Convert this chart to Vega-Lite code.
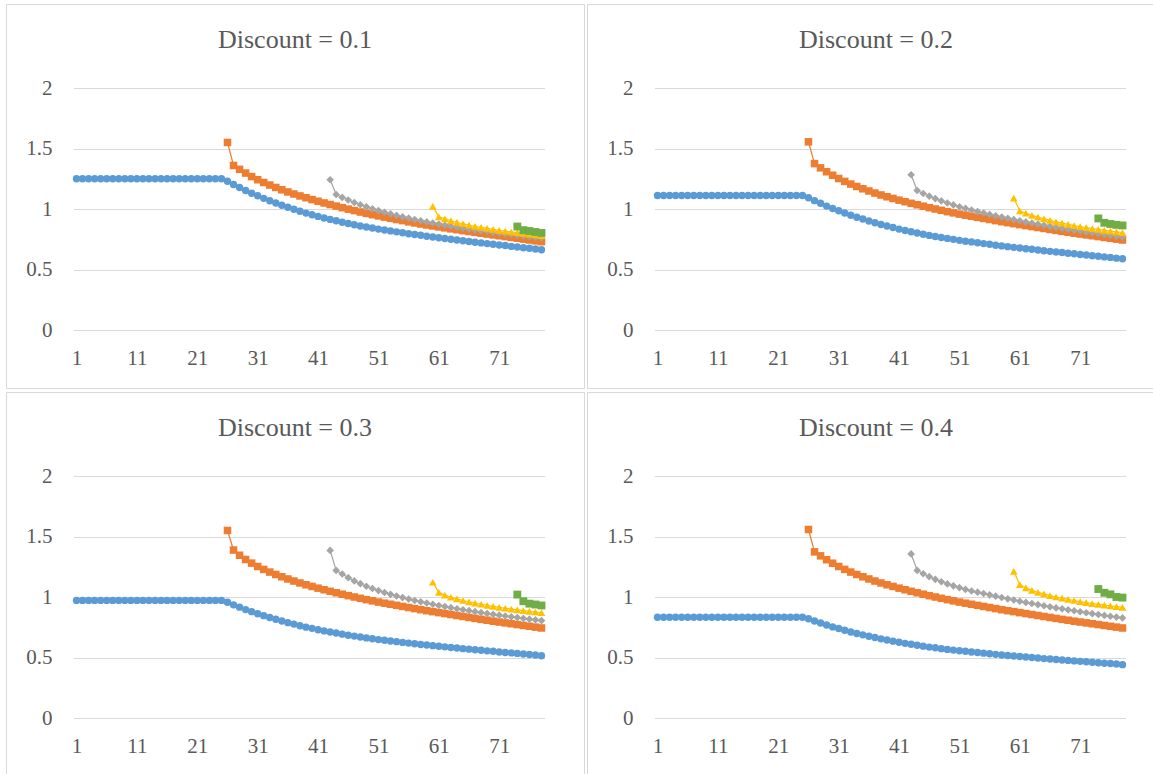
{
"$schema": "https://vega.github.io/schema/vega-lite/v6.json",
"padding": {"left": 5, "top": 3, "right": 0, "bottom": 0},
"background": "white",
"config": {
  "font": "Times New Roman, Liberation Serif, DejaVu Serif, serif",
  "view": {"stroke": "#d9d9d9", "strokeWidth": 1},
  "axis": {"labelFont": "Times New Roman, Liberation Serif, DejaVu Serif, serif", "labelFontSize": 21, "labelColor": "#595959", "ticks": false, "domain": false, "title": null, "labelPadding": 0, "labelFlush": false, "labelOverlap": false, "gridColor": "#d9d9d9", "gridWidth": 1},
  "title": {"font": "Times New Roman, Liberation Serif, DejaVu Serif, serif", "fontSize": 26, "fontWeight": "normal", "color": "#595959", "anchor": "middle", "frame": "group", "offset": -49, "baseline": "alphabetic"}
},
"datasets": {"pts": [
{"d":0.1,"s":"A","t":1,"v":1.25},{"d":0.1,"s":"A","t":2,"v":1.25},{"d":0.1,"s":"A","t":3,"v":1.25},{"d":0.1,"s":"A","t":4,"v":1.25},{"d":0.1,"s":"A","t":5,"v":1.25},{"d":0.1,"s":"A","t":6,"v":1.25},{"d":0.1,"s":"A","t":7,"v":1.25},{"d":0.1,"s":"A","t":8,"v":1.25},{"d":0.1,"s":"A","t":9,"v":1.25},{"d":0.1,"s":"A","t":10,"v":1.25},{"d":0.1,"s":"A","t":11,"v":1.25},{"d":0.1,"s":"A","t":12,"v":1.25},{"d":0.1,"s":"A","t":13,"v":1.25},{"d":0.1,"s":"A","t":14,"v":1.25},{"d":0.1,"s":"A","t":15,"v":1.25},{"d":0.1,"s":"A","t":16,"v":1.25},{"d":0.1,"s":"A","t":17,"v":1.25},{"d":0.1,"s":"A","t":18,"v":1.25},{"d":0.1,"s":"A","t":19,"v":1.25},{"d":0.1,"s":"A","t":20,"v":1.25},{"d":0.1,"s":"A","t":21,"v":1.25},{"d":0.1,"s":"A","t":22,"v":1.25},{"d":0.1,"s":"A","t":23,"v":1.25},{"d":0.1,"s":"A","t":24,"v":1.25},{"d":0.1,"s":"A","t":25,"v":1.25},
{"d":0.1,"s":"A","t":26,"v":1.230},{"d":0.1,"s":"A","t":27,"v":1.203},{"d":0.1,"s":"A","t":28,"v":1.178},{"d":0.1,"s":"A","t":29,"v":1.153},{"d":0.1,"s":"A","t":30,"v":1.130},{"d":0.1,"s":"A","t":31,"v":1.109},{"d":0.1,"s":"A","t":32,"v":1.088},{"d":0.1,"s":"A","t":33,"v":1.068},{"d":0.1,"s":"A","t":34,"v":1.049},{"d":0.1,"s":"A","t":35,"v":1.031},{"d":0.1,"s":"A","t":36,"v":1.014},{"d":0.1,"s":"A","t":37,"v":0.998},{"d":0.1,"s":"A","t":38,"v":0.981},{"d":0.1,"s":"A","t":39,"v":0.966},{"d":0.1,"s":"A","t":40,"v":0.953},{"d":0.1,"s":"A","t":41,"v":0.939},{"d":0.1,"s":"A","t":42,"v":0.926},{"d":0.1,"s":"A","t":43,"v":0.914},{"d":0.1,"s":"A","t":44,"v":0.903},{"d":0.1,"s":"A","t":45,"v":0.891},{"d":0.1,"s":"A","t":46,"v":0.880},{"d":0.1,"s":"A","t":47,"v":0.870},{"d":0.1,"s":"A","t":48,"v":0.860},{"d":0.1,"s":"A","t":49,"v":0.851},{"d":0.1,"s":"A","t":50,"v":0.843},{"d":0.1,"s":"A","t":51,"v":0.834},{"d":0.1,"s":"A","t":52,"v":0.826},{"d":0.1,"s":"A","t":53,"v":0.819},{"d":0.1,"s":"A","t":54,"v":0.811},{"d":0.1,"s":"A","t":55,"v":0.804},{"d":0.1,"s":"A","t":56,"v":0.796},{"d":0.1,"s":"A","t":57,"v":0.789},{"d":0.1,"s":"A","t":58,"v":0.783},{"d":0.1,"s":"A","t":59,"v":0.775},{"d":0.1,"s":"A","t":60,"v":0.769},{"d":0.1,"s":"A","t":61,"v":0.763},{"d":0.1,"s":"A","t":62,"v":0.756},{"d":0.1,"s":"A","t":63,"v":0.750},{"d":0.1,"s":"A","t":64,"v":0.744},{"d":0.1,"s":"A","t":65,"v":0.738},{"d":0.1,"s":"A","t":66,"v":0.731},{"d":0.1,"s":"A","t":67,"v":0.725},{"d":0.1,"s":"A","t":68,"v":0.720},{"d":0.1,"s":"A","t":69,"v":0.714},{"d":0.1,"s":"A","t":70,"v":0.709},{"d":0.1,"s":"A","t":71,"v":0.703},{"d":0.1,"s":"A","t":72,"v":0.698},{"d":0.1,"s":"A","t":73,"v":0.691},{"d":0.1,"s":"A","t":74,"v":0.686},{"d":0.1,"s":"A","t":75,"v":0.680},{"d":0.1,"s":"A","t":76,"v":0.675},{"d":0.1,"s":"A","t":77,"v":0.669},{"d":0.1,"s":"A","t":78,"v":0.663},
{"d":0.1,"s":"B","t":26,"v":1.550},{"d":0.1,"s":"B","t":27,"v":1.360},{"d":0.1,"s":"B","t":28,"v":1.328},{"d":0.1,"s":"B","t":29,"v":1.297},{"d":0.1,"s":"B","t":30,"v":1.268},{"d":0.1,"s":"B","t":31,"v":1.242},{"d":0.1,"s":"B","t":32,"v":1.219},{"d":0.1,"s":"B","t":33,"v":1.198},{"d":0.1,"s":"B","t":34,"v":1.178},{"d":0.1,"s":"B","t":35,"v":1.159},{"d":0.1,"s":"B","t":36,"v":1.141},{"d":0.1,"s":"B","t":37,"v":1.124},{"d":0.1,"s":"B","t":38,"v":1.108},{"d":0.1,"s":"B","t":39,"v":1.093},{"d":0.1,"s":"B","t":40,"v":1.078},{"d":0.1,"s":"B","t":41,"v":1.064},{"d":0.1,"s":"B","t":42,"v":1.050},{"d":0.1,"s":"B","t":43,"v":1.037},{"d":0.1,"s":"B","t":44,"v":1.024},{"d":0.1,"s":"B","t":45,"v":1.011},{"d":0.1,"s":"B","t":46,"v":0.999},{"d":0.1,"s":"B","t":47,"v":0.987},{"d":0.1,"s":"B","t":48,"v":0.975},{"d":0.1,"s":"B","t":49,"v":0.964},{"d":0.1,"s":"B","t":50,"v":0.953},{"d":0.1,"s":"B","t":51,"v":0.943},{"d":0.1,"s":"B","t":52,"v":0.933},{"d":0.1,"s":"B","t":53,"v":0.923},{"d":0.1,"s":"B","t":54,"v":0.913},{"d":0.1,"s":"B","t":55,"v":0.904},{"d":0.1,"s":"B","t":56,"v":0.894},{"d":0.1,"s":"B","t":57,"v":0.885},{"d":0.1,"s":"B","t":58,"v":0.876},{"d":0.1,"s":"B","t":59,"v":0.868},{"d":0.1,"s":"B","t":60,"v":0.860},{"d":0.1,"s":"B","t":61,"v":0.852},{"d":0.1,"s":"B","t":62,"v":0.844},{"d":0.1,"s":"B","t":63,"v":0.836},{"d":0.1,"s":"B","t":64,"v":0.829},{"d":0.1,"s":"B","t":65,"v":0.821},{"d":0.1,"s":"B","t":66,"v":0.814},{"d":0.1,"s":"B","t":67,"v":0.807},{"d":0.1,"s":"B","t":68,"v":0.800},{"d":0.1,"s":"B","t":69,"v":0.793},{"d":0.1,"s":"B","t":70,"v":0.786},{"d":0.1,"s":"B","t":71,"v":0.779},{"d":0.1,"s":"B","t":72,"v":0.772},{"d":0.1,"s":"B","t":73,"v":0.765},{"d":0.1,"s":"B","t":74,"v":0.758},{"d":0.1,"s":"B","t":75,"v":0.751},{"d":0.1,"s":"B","t":76,"v":0.744},{"d":0.1,"s":"B","t":77,"v":0.737},{"d":0.1,"s":"B","t":78,"v":0.730},
{"d":0.1,"s":"C","t":43,"v":1.242},{"d":0.1,"s":"C","t":44,"v":1.120},{"d":0.1,"s":"C","t":45,"v":1.096},{"d":0.1,"s":"C","t":46,"v":1.074},{"d":0.1,"s":"C","t":47,"v":1.054},{"d":0.1,"s":"C","t":48,"v":1.035},{"d":0.1,"s":"C","t":49,"v":1.018},{"d":0.1,"s":"C","t":50,"v":1.002},{"d":0.1,"s":"C","t":51,"v":0.987},{"d":0.1,"s":"C","t":52,"v":0.973},{"d":0.1,"s":"C","t":53,"v":0.960},{"d":0.1,"s":"C","t":54,"v":0.947},{"d":0.1,"s":"C","t":55,"v":0.935},{"d":0.1,"s":"C","t":56,"v":0.924},{"d":0.1,"s":"C","t":57,"v":0.913},{"d":0.1,"s":"C","t":58,"v":0.903},{"d":0.1,"s":"C","t":59,"v":0.893},{"d":0.1,"s":"C","t":60,"v":0.884},{"d":0.1,"s":"C","t":61,"v":0.875},{"d":0.1,"s":"C","t":62,"v":0.866},{"d":0.1,"s":"C","t":63,"v":0.858},{"d":0.1,"s":"C","t":64,"v":0.850},{"d":0.1,"s":"C","t":65,"v":0.842},{"d":0.1,"s":"C","t":66,"v":0.835},{"d":0.1,"s":"C","t":67,"v":0.828},{"d":0.1,"s":"C","t":68,"v":0.821},{"d":0.1,"s":"C","t":69,"v":0.814},{"d":0.1,"s":"C","t":70,"v":0.807},{"d":0.1,"s":"C","t":71,"v":0.801},{"d":0.1,"s":"C","t":72,"v":0.795},{"d":0.1,"s":"C","t":73,"v":0.789},{"d":0.1,"s":"C","t":74,"v":0.783},{"d":0.1,"s":"C","t":75,"v":0.777},{"d":0.1,"s":"C","t":76,"v":0.771},{"d":0.1,"s":"C","t":77,"v":0.765},{"d":0.1,"s":"C","t":78,"v":0.760},
{"d":0.1,"s":"D","t":60,"v":1.022},{"d":0.1,"s":"D","t":61,"v":0.935},{"d":0.1,"s":"D","t":62,"v":0.918},{"d":0.1,"s":"D","t":63,"v":0.903},{"d":0.1,"s":"D","t":64,"v":0.890},{"d":0.1,"s":"D","t":65,"v":0.878},{"d":0.1,"s":"D","t":66,"v":0.867},{"d":0.1,"s":"D","t":67,"v":0.857},{"d":0.1,"s":"D","t":68,"v":0.848},{"d":0.1,"s":"D","t":69,"v":0.840},{"d":0.1,"s":"D","t":70,"v":0.832},{"d":0.1,"s":"D","t":71,"v":0.824},{"d":0.1,"s":"D","t":72,"v":0.817},{"d":0.1,"s":"D","t":73,"v":0.810},{"d":0.1,"s":"D","t":74,"v":0.804},{"d":0.1,"s":"D","t":75,"v":0.798},{"d":0.1,"s":"D","t":76,"v":0.792},{"d":0.1,"s":"D","t":77,"v":0.786},{"d":0.1,"s":"D","t":78,"v":0.780},
{"d":0.1,"s":"E","t":74,"v":0.855},{"d":0.1,"s":"E","t":75,"v":0.825},{"d":0.1,"s":"E","t":76,"v":0.818},{"d":0.1,"s":"E","t":77,"v":0.810},{"d":0.1,"s":"E","t":78,"v":0.802},

{"d":0.2,"s":"A","t":1,"v":1.111},{"d":0.2,"s":"A","t":2,"v":1.111},{"d":0.2,"s":"A","t":3,"v":1.111},{"d":0.2,"s":"A","t":4,"v":1.111},{"d":0.2,"s":"A","t":5,"v":1.111},{"d":0.2,"s":"A","t":6,"v":1.111},{"d":0.2,"s":"A","t":7,"v":1.111},{"d":0.2,"s":"A","t":8,"v":1.111},{"d":0.2,"s":"A","t":9,"v":1.111},{"d":0.2,"s":"A","t":10,"v":1.111},{"d":0.2,"s":"A","t":11,"v":1.111},{"d":0.2,"s":"A","t":12,"v":1.111},{"d":0.2,"s":"A","t":13,"v":1.111},{"d":0.2,"s":"A","t":14,"v":1.111},{"d":0.2,"s":"A","t":15,"v":1.111},{"d":0.2,"s":"A","t":16,"v":1.111},{"d":0.2,"s":"A","t":17,"v":1.111},{"d":0.2,"s":"A","t":18,"v":1.111},{"d":0.2,"s":"A","t":19,"v":1.111},{"d":0.2,"s":"A","t":20,"v":1.111},{"d":0.2,"s":"A","t":21,"v":1.111},{"d":0.2,"s":"A","t":22,"v":1.111},{"d":0.2,"s":"A","t":23,"v":1.111},{"d":0.2,"s":"A","t":24,"v":1.111},{"d":0.2,"s":"A","t":25,"v":1.111},
{"d":0.2,"s":"A","t":26,"v":1.093},{"d":0.2,"s":"A","t":27,"v":1.069},{"d":0.2,"s":"A","t":28,"v":1.047},{"d":0.2,"s":"A","t":29,"v":1.024},{"d":0.2,"s":"A","t":30,"v":1.004},{"d":0.2,"s":"A","t":31,"v":0.985},{"d":0.2,"s":"A","t":32,"v":0.967},{"d":0.2,"s":"A","t":33,"v":0.949},{"d":0.2,"s":"A","t":34,"v":0.932},{"d":0.2,"s":"A","t":35,"v":0.917},{"d":0.2,"s":"A","t":36,"v":0.901},{"d":0.2,"s":"A","t":37,"v":0.887},{"d":0.2,"s":"A","t":38,"v":0.872},{"d":0.2,"s":"A","t":39,"v":0.859},{"d":0.2,"s":"A","t":40,"v":0.847},{"d":0.2,"s":"A","t":41,"v":0.834},{"d":0.2,"s":"A","t":42,"v":0.823},{"d":0.2,"s":"A","t":43,"v":0.812},{"d":0.2,"s":"A","t":44,"v":0.802},{"d":0.2,"s":"A","t":45,"v":0.792},{"d":0.2,"s":"A","t":46,"v":0.782},{"d":0.2,"s":"A","t":47,"v":0.773},{"d":0.2,"s":"A","t":48,"v":0.764},{"d":0.2,"s":"A","t":49,"v":0.757},{"d":0.2,"s":"A","t":50,"v":0.749},{"d":0.2,"s":"A","t":51,"v":0.741},{"d":0.2,"s":"A","t":52,"v":0.734},{"d":0.2,"s":"A","t":53,"v":0.728},{"d":0.2,"s":"A","t":54,"v":0.721},{"d":0.2,"s":"A","t":55,"v":0.714},{"d":0.2,"s":"A","t":56,"v":0.708},{"d":0.2,"s":"A","t":57,"v":0.701},{"d":0.2,"s":"A","t":58,"v":0.695},{"d":0.2,"s":"A","t":59,"v":0.689},{"d":0.2,"s":"A","t":60,"v":0.683},{"d":0.2,"s":"A","t":61,"v":0.678},{"d":0.2,"s":"A","t":62,"v":0.672},{"d":0.2,"s":"A","t":63,"v":0.667},{"d":0.2,"s":"A","t":64,"v":0.661},{"d":0.2,"s":"A","t":65,"v":0.655},{"d":0.2,"s":"A","t":66,"v":0.650},{"d":0.2,"s":"A","t":67,"v":0.644},{"d":0.2,"s":"A","t":68,"v":0.640},{"d":0.2,"s":"A","t":69,"v":0.634},{"d":0.2,"s":"A","t":70,"v":0.630},{"d":0.2,"s":"A","t":71,"v":0.624},{"d":0.2,"s":"A","t":72,"v":0.620},{"d":0.2,"s":"A","t":73,"v":0.614},{"d":0.2,"s":"A","t":74,"v":0.610},{"d":0.2,"s":"A","t":75,"v":0.604},{"d":0.2,"s":"A","t":76,"v":0.600},{"d":0.2,"s":"A","t":77,"v":0.594},{"d":0.2,"s":"A","t":78,"v":0.589},
{"d":0.2,"s":"B","t":26,"v":1.555},{"d":0.2,"s":"B","t":27,"v":1.375},{"d":0.2,"s":"B","t":28,"v":1.340},{"d":0.2,"s":"B","t":29,"v":1.308},{"d":0.2,"s":"B","t":30,"v":1.279},{"d":0.2,"s":"B","t":31,"v":1.252},{"d":0.2,"s":"B","t":32,"v":1.228},{"d":0.2,"s":"B","t":33,"v":1.206},{"d":0.2,"s":"B","t":34,"v":1.186},{"d":0.2,"s":"B","t":35,"v":1.167},{"d":0.2,"s":"B","t":36,"v":1.149},{"d":0.2,"s":"B","t":37,"v":1.132},{"d":0.2,"s":"B","t":38,"v":1.116},{"d":0.2,"s":"B","t":39,"v":1.101},{"d":0.2,"s":"B","t":40,"v":1.087},{"d":0.2,"s":"B","t":41,"v":1.073},{"d":0.2,"s":"B","t":42,"v":1.060},{"d":0.2,"s":"B","t":43,"v":1.047},{"d":0.2,"s":"B","t":44,"v":1.035},{"d":0.2,"s":"B","t":45,"v":1.023},{"d":0.2,"s":"B","t":46,"v":1.011},{"d":0.2,"s":"B","t":47,"v":1.000},{"d":0.2,"s":"B","t":48,"v":0.989},{"d":0.2,"s":"B","t":49,"v":0.978},{"d":0.2,"s":"B","t":50,"v":0.968},{"d":0.2,"s":"B","t":51,"v":0.958},{"d":0.2,"s":"B","t":52,"v":0.949},{"d":0.2,"s":"B","t":53,"v":0.940},{"d":0.2,"s":"B","t":54,"v":0.931},{"d":0.2,"s":"B","t":55,"v":0.922},{"d":0.2,"s":"B","t":56,"v":0.913},{"d":0.2,"s":"B","t":57,"v":0.904},{"d":0.2,"s":"B","t":58,"v":0.895},{"d":0.2,"s":"B","t":59,"v":0.887},{"d":0.2,"s":"B","t":60,"v":0.879},{"d":0.2,"s":"B","t":61,"v":0.871},{"d":0.2,"s":"B","t":62,"v":0.863},{"d":0.2,"s":"B","t":63,"v":0.855},{"d":0.2,"s":"B","t":64,"v":0.847},{"d":0.2,"s":"B","t":65,"v":0.839},{"d":0.2,"s":"B","t":66,"v":0.831},{"d":0.2,"s":"B","t":67,"v":0.823},{"d":0.2,"s":"B","t":68,"v":0.815},{"d":0.2,"s":"B","t":69,"v":0.808},{"d":0.2,"s":"B","t":70,"v":0.800},{"d":0.2,"s":"B","t":71,"v":0.793},{"d":0.2,"s":"B","t":72,"v":0.786},{"d":0.2,"s":"B","t":73,"v":0.779},{"d":0.2,"s":"B","t":74,"v":0.772},{"d":0.2,"s":"B","t":75,"v":0.765},{"d":0.2,"s":"B","t":76,"v":0.758},{"d":0.2,"s":"B","t":77,"v":0.751},{"d":0.2,"s":"B","t":78,"v":0.744},
{"d":0.2,"s":"C","t":43,"v":1.283},{"d":0.2,"s":"C","t":44,"v":1.153},{"d":0.2,"s":"C","t":45,"v":1.128},{"d":0.2,"s":"C","t":46,"v":1.106},{"d":0.2,"s":"C","t":47,"v":1.086},{"d":0.2,"s":"C","t":48,"v":1.067},{"d":0.2,"s":"C","t":49,"v":1.050},{"d":0.2,"s":"C","t":50,"v":1.034},{"d":0.2,"s":"C","t":51,"v":1.019},{"d":0.2,"s":"C","t":52,"v":1.005},{"d":0.2,"s":"C","t":53,"v":0.992},{"d":0.2,"s":"C","t":54,"v":0.979},{"d":0.2,"s":"C","t":55,"v":0.967},{"d":0.2,"s":"C","t":56,"v":0.955},{"d":0.2,"s":"C","t":57,"v":0.944},{"d":0.2,"s":"C","t":58,"v":0.933},{"d":0.2,"s":"C","t":59,"v":0.923},{"d":0.2,"s":"C","t":60,"v":0.913},{"d":0.2,"s":"C","t":61,"v":0.903},{"d":0.2,"s":"C","t":62,"v":0.893},{"d":0.2,"s":"C","t":63,"v":0.884},{"d":0.2,"s":"C","t":64,"v":0.875},{"d":0.2,"s":"C","t":65,"v":0.866},{"d":0.2,"s":"C","t":66,"v":0.857},{"d":0.2,"s":"C","t":67,"v":0.849},{"d":0.2,"s":"C","t":68,"v":0.841},{"d":0.2,"s":"C","t":69,"v":0.833},{"d":0.2,"s":"C","t":70,"v":0.825},{"d":0.2,"s":"C","t":71,"v":0.818},{"d":0.2,"s":"C","t":72,"v":0.811},{"d":0.2,"s":"C","t":73,"v":0.804},{"d":0.2,"s":"C","t":74,"v":0.797},{"d":0.2,"s":"C","t":75,"v":0.790},{"d":0.2,"s":"C","t":76,"v":0.783},{"d":0.2,"s":"C","t":77,"v":0.776},{"d":0.2,"s":"C","t":78,"v":0.769},
{"d":0.2,"s":"D","t":60,"v":1.089},{"d":0.2,"s":"D","t":61,"v":0.985},{"d":0.2,"s":"D","t":62,"v":0.965},{"d":0.2,"s":"D","t":63,"v":0.948},{"d":0.2,"s":"D","t":64,"v":0.933},{"d":0.2,"s":"D","t":65,"v":0.919},{"d":0.2,"s":"D","t":66,"v":0.906},{"d":0.2,"s":"D","t":67,"v":0.894},{"d":0.2,"s":"D","t":68,"v":0.883},{"d":0.2,"s":"D","t":69,"v":0.873},{"d":0.2,"s":"D","t":70,"v":0.863},{"d":0.2,"s":"D","t":71,"v":0.854},{"d":0.2,"s":"D","t":72,"v":0.846},{"d":0.2,"s":"D","t":73,"v":0.838},{"d":0.2,"s":"D","t":74,"v":0.831},{"d":0.2,"s":"D","t":75,"v":0.824},{"d":0.2,"s":"D","t":76,"v":0.817},{"d":0.2,"s":"D","t":77,"v":0.811},{"d":0.2,"s":"D","t":78,"v":0.805},
{"d":0.2,"s":"E","t":74,"v":0.922},{"d":0.2,"s":"E","t":75,"v":0.886},{"d":0.2,"s":"E","t":76,"v":0.876},{"d":0.2,"s":"E","t":77,"v":0.869},{"d":0.2,"s":"E","t":78,"v":0.864},

{"d":0.3,"s":"A","t":1,"v":0.972},{"d":0.3,"s":"A","t":2,"v":0.972},{"d":0.3,"s":"A","t":3,"v":0.972},{"d":0.3,"s":"A","t":4,"v":0.972},{"d":0.3,"s":"A","t":5,"v":0.972},{"d":0.3,"s":"A","t":6,"v":0.972},{"d":0.3,"s":"A","t":7,"v":0.972},{"d":0.3,"s":"A","t":8,"v":0.972},{"d":0.3,"s":"A","t":9,"v":0.972},{"d":0.3,"s":"A","t":10,"v":0.972},{"d":0.3,"s":"A","t":11,"v":0.972},{"d":0.3,"s":"A","t":12,"v":0.972},{"d":0.3,"s":"A","t":13,"v":0.972},{"d":0.3,"s":"A","t":14,"v":0.972},{"d":0.3,"s":"A","t":15,"v":0.972},{"d":0.3,"s":"A","t":16,"v":0.972},{"d":0.3,"s":"A","t":17,"v":0.972},{"d":0.3,"s":"A","t":18,"v":0.972},{"d":0.3,"s":"A","t":19,"v":0.972},{"d":0.3,"s":"A","t":20,"v":0.972},{"d":0.3,"s":"A","t":21,"v":0.972},{"d":0.3,"s":"A","t":22,"v":0.972},{"d":0.3,"s":"A","t":23,"v":0.972},{"d":0.3,"s":"A","t":24,"v":0.972},{"d":0.3,"s":"A","t":25,"v":0.972},
{"d":0.3,"s":"A","t":26,"v":0.956},{"d":0.3,"s":"A","t":27,"v":0.935},{"d":0.3,"s":"A","t":28,"v":0.916},{"d":0.3,"s":"A","t":29,"v":0.896},{"d":0.3,"s":"A","t":30,"v":0.879},{"d":0.3,"s":"A","t":31,"v":0.862},{"d":0.3,"s":"A","t":32,"v":0.846},{"d":0.3,"s":"A","t":33,"v":0.830},{"d":0.3,"s":"A","t":34,"v":0.816},{"d":0.3,"s":"A","t":35,"v":0.802},{"d":0.3,"s":"A","t":36,"v":0.788},{"d":0.3,"s":"A","t":37,"v":0.776},{"d":0.3,"s":"A","t":38,"v":0.763},{"d":0.3,"s":"A","t":39,"v":0.751},{"d":0.3,"s":"A","t":40,"v":0.741},{"d":0.3,"s":"A","t":41,"v":0.730},{"d":0.3,"s":"A","t":42,"v":0.720},{"d":0.3,"s":"A","t":43,"v":0.711},{"d":0.3,"s":"A","t":44,"v":0.702},{"d":0.3,"s":"A","t":45,"v":0.693},{"d":0.3,"s":"A","t":46,"v":0.684},{"d":0.3,"s":"A","t":47,"v":0.677},{"d":0.3,"s":"A","t":48,"v":0.669},{"d":0.3,"s":"A","t":49,"v":0.662},{"d":0.3,"s":"A","t":50,"v":0.655},{"d":0.3,"s":"A","t":51,"v":0.648},{"d":0.3,"s":"A","t":52,"v":0.642},{"d":0.3,"s":"A","t":53,"v":0.637},{"d":0.3,"s":"A","t":54,"v":0.631},{"d":0.3,"s":"A","t":55,"v":0.625},{"d":0.3,"s":"A","t":56,"v":0.619},{"d":0.3,"s":"A","t":57,"v":0.613},{"d":0.3,"s":"A","t":58,"v":0.608},{"d":0.3,"s":"A","t":59,"v":0.603},{"d":0.3,"s":"A","t":60,"v":0.598},{"d":0.3,"s":"A","t":61,"v":0.593},{"d":0.3,"s":"A","t":62,"v":0.588},{"d":0.3,"s":"A","t":63,"v":0.583},{"d":0.3,"s":"A","t":64,"v":0.578},{"d":0.3,"s":"A","t":65,"v":0.573},{"d":0.3,"s":"A","t":66,"v":0.569},{"d":0.3,"s":"A","t":67,"v":0.564},{"d":0.3,"s":"A","t":68,"v":0.560},{"d":0.3,"s":"A","t":69,"v":0.555},{"d":0.3,"s":"A","t":70,"v":0.551},{"d":0.3,"s":"A","t":71,"v":0.546},{"d":0.3,"s":"A","t":72,"v":0.542},{"d":0.3,"s":"A","t":73,"v":0.538},{"d":0.3,"s":"A","t":74,"v":0.534},{"d":0.3,"s":"A","t":75,"v":0.529},{"d":0.3,"s":"A","t":76,"v":0.525},{"d":0.3,"s":"A","t":77,"v":0.520},{"d":0.3,"s":"A","t":78,"v":0.515},
{"d":0.3,"s":"B","t":26,"v":1.550},{"d":0.3,"s":"B","t":27,"v":1.388},{"d":0.3,"s":"B","t":28,"v":1.345},{"d":0.3,"s":"B","t":29,"v":1.310},{"d":0.3,"s":"B","t":30,"v":1.280},{"d":0.3,"s":"B","t":31,"v":1.252},{"d":0.3,"s":"B","t":32,"v":1.228},{"d":0.3,"s":"B","t":33,"v":1.206},{"d":0.3,"s":"B","t":34,"v":1.186},{"d":0.3,"s":"B","t":35,"v":1.167},{"d":0.3,"s":"B","t":36,"v":1.149},{"d":0.3,"s":"B","t":37,"v":1.132},{"d":0.3,"s":"B","t":38,"v":1.116},{"d":0.3,"s":"B","t":39,"v":1.101},{"d":0.3,"s":"B","t":40,"v":1.087},{"d":0.3,"s":"B","t":41,"v":1.073},{"d":0.3,"s":"B","t":42,"v":1.060},{"d":0.3,"s":"B","t":43,"v":1.047},{"d":0.3,"s":"B","t":44,"v":1.035},{"d":0.3,"s":"B","t":45,"v":1.023},{"d":0.3,"s":"B","t":46,"v":1.011},{"d":0.3,"s":"B","t":47,"v":1.000},{"d":0.3,"s":"B","t":48,"v":0.989},{"d":0.3,"s":"B","t":49,"v":0.978},{"d":0.3,"s":"B","t":50,"v":0.968},{"d":0.3,"s":"B","t":51,"v":0.958},{"d":0.3,"s":"B","t":52,"v":0.949},{"d":0.3,"s":"B","t":53,"v":0.940},{"d":0.3,"s":"B","t":54,"v":0.931},{"d":0.3,"s":"B","t":55,"v":0.922},{"d":0.3,"s":"B","t":56,"v":0.913},{"d":0.3,"s":"B","t":57,"v":0.904},{"d":0.3,"s":"B","t":58,"v":0.895},{"d":0.3,"s":"B","t":59,"v":0.887},{"d":0.3,"s":"B","t":60,"v":0.879},{"d":0.3,"s":"B","t":61,"v":0.871},{"d":0.3,"s":"B","t":62,"v":0.863},{"d":0.3,"s":"B","t":63,"v":0.855},{"d":0.3,"s":"B","t":64,"v":0.847},{"d":0.3,"s":"B","t":65,"v":0.839},{"d":0.3,"s":"B","t":66,"v":0.831},{"d":0.3,"s":"B","t":67,"v":0.823},{"d":0.3,"s":"B","t":68,"v":0.815},{"d":0.3,"s":"B","t":69,"v":0.808},{"d":0.3,"s":"B","t":70,"v":0.800},{"d":0.3,"s":"B","t":71,"v":0.793},{"d":0.3,"s":"B","t":72,"v":0.786},{"d":0.3,"s":"B","t":73,"v":0.779},{"d":0.3,"s":"B","t":74,"v":0.772},{"d":0.3,"s":"B","t":75,"v":0.765},{"d":0.3,"s":"B","t":76,"v":0.758},{"d":0.3,"s":"B","t":77,"v":0.751},{"d":0.3,"s":"B","t":78,"v":0.744},
{"d":0.3,"s":"C","t":43,"v":1.385},{"d":0.3,"s":"C","t":44,"v":1.220},{"d":0.3,"s":"C","t":45,"v":1.190},{"d":0.3,"s":"C","t":46,"v":1.160},{"d":0.3,"s":"C","t":47,"v":1.133},{"d":0.3,"s":"C","t":48,"v":1.110},{"d":0.3,"s":"C","t":49,"v":1.089},{"d":0.3,"s":"C","t":50,"v":1.070},{"d":0.3,"s":"C","t":51,"v":1.053},{"d":0.3,"s":"C","t":52,"v":1.037},{"d":0.3,"s":"C","t":53,"v":1.022},{"d":0.3,"s":"C","t":54,"v":1.008},{"d":0.3,"s":"C","t":55,"v":0.995},{"d":0.3,"s":"C","t":56,"v":0.983},{"d":0.3,"s":"C","t":57,"v":0.971},{"d":0.3,"s":"C","t":58,"v":0.960},{"d":0.3,"s":"C","t":59,"v":0.950},{"d":0.3,"s":"C","t":60,"v":0.940},{"d":0.3,"s":"C","t":61,"v":0.930},{"d":0.3,"s":"C","t":62,"v":0.921},{"d":0.3,"s":"C","t":63,"v":0.912},{"d":0.3,"s":"C","t":64,"v":0.903},{"d":0.3,"s":"C","t":65,"v":0.895},{"d":0.3,"s":"C","t":66,"v":0.887},{"d":0.3,"s":"C","t":67,"v":0.879},{"d":0.3,"s":"C","t":68,"v":0.871},{"d":0.3,"s":"C","t":69,"v":0.864},{"d":0.3,"s":"C","t":70,"v":0.857},{"d":0.3,"s":"C","t":71,"v":0.850},{"d":0.3,"s":"C","t":72,"v":0.843},{"d":0.3,"s":"C","t":73,"v":0.836},{"d":0.3,"s":"C","t":74,"v":0.830},{"d":0.3,"s":"C","t":75,"v":0.823},{"d":0.3,"s":"C","t":76,"v":0.817},{"d":0.3,"s":"C","t":77,"v":0.811},{"d":0.3,"s":"C","t":78,"v":0.805},
{"d":0.3,"s":"D","t":60,"v":1.122},{"d":0.3,"s":"D","t":61,"v":1.038},{"d":0.3,"s":"D","t":62,"v":1.015},{"d":0.3,"s":"D","t":63,"v":0.998},{"d":0.3,"s":"D","t":64,"v":0.984},{"d":0.3,"s":"D","t":65,"v":0.971},{"d":0.3,"s":"D","t":66,"v":0.960},{"d":0.3,"s":"D","t":67,"v":0.950},{"d":0.3,"s":"D","t":68,"v":0.940},{"d":0.3,"s":"D","t":69,"v":0.931},{"d":0.3,"s":"D","t":70,"v":0.923},{"d":0.3,"s":"D","t":71,"v":0.915},{"d":0.3,"s":"D","t":72,"v":0.907},{"d":0.3,"s":"D","t":73,"v":0.900},{"d":0.3,"s":"D","t":74,"v":0.894},{"d":0.3,"s":"D","t":75,"v":0.887},{"d":0.3,"s":"D","t":76,"v":0.881},{"d":0.3,"s":"D","t":77,"v":0.876},{"d":0.3,"s":"D","t":78,"v":0.870},
{"d":0.3,"s":"E","t":74,"v":1.020},{"d":0.3,"s":"E","t":75,"v":0.965},{"d":0.3,"s":"E","t":76,"v":0.945},{"d":0.3,"s":"E","t":77,"v":0.938},{"d":0.3,"s":"E","t":78,"v":0.930},

{"d":0.4,"s":"A","t":1,"v":0.833},{"d":0.4,"s":"A","t":2,"v":0.833},{"d":0.4,"s":"A","t":3,"v":0.833},{"d":0.4,"s":"A","t":4,"v":0.833},{"d":0.4,"s":"A","t":5,"v":0.833},{"d":0.4,"s":"A","t":6,"v":0.833},{"d":0.4,"s":"A","t":7,"v":0.833},{"d":0.4,"s":"A","t":8,"v":0.833},{"d":0.4,"s":"A","t":9,"v":0.833},{"d":0.4,"s":"A","t":10,"v":0.833},{"d":0.4,"s":"A","t":11,"v":0.833},{"d":0.4,"s":"A","t":12,"v":0.833},{"d":0.4,"s":"A","t":13,"v":0.833},{"d":0.4,"s":"A","t":14,"v":0.833},{"d":0.4,"s":"A","t":15,"v":0.833},{"d":0.4,"s":"A","t":16,"v":0.833},{"d":0.4,"s":"A","t":17,"v":0.833},{"d":0.4,"s":"A","t":18,"v":0.833},{"d":0.4,"s":"A","t":19,"v":0.833},{"d":0.4,"s":"A","t":20,"v":0.833},{"d":0.4,"s":"A","t":21,"v":0.833},{"d":0.4,"s":"A","t":22,"v":0.833},{"d":0.4,"s":"A","t":23,"v":0.833},{"d":0.4,"s":"A","t":24,"v":0.833},{"d":0.4,"s":"A","t":25,"v":0.833},
{"d":0.4,"s":"A","t":26,"v":0.820},{"d":0.4,"s":"A","t":27,"v":0.801},{"d":0.4,"s":"A","t":28,"v":0.785},{"d":0.4,"s":"A","t":29,"v":0.768},{"d":0.4,"s":"A","t":30,"v":0.753},{"d":0.4,"s":"A","t":31,"v":0.739},{"d":0.4,"s":"A","t":32,"v":0.725},{"d":0.4,"s":"A","t":33,"v":0.711},{"d":0.4,"s":"A","t":34,"v":0.699},{"d":0.4,"s":"A","t":35,"v":0.687},{"d":0.4,"s":"A","t":36,"v":0.676},{"d":0.4,"s":"A","t":37,"v":0.665},{"d":0.4,"s":"A","t":38,"v":0.654},{"d":0.4,"s":"A","t":39,"v":0.644},{"d":0.4,"s":"A","t":40,"v":0.635},{"d":0.4,"s":"A","t":41,"v":0.626},{"d":0.4,"s":"A","t":42,"v":0.617},{"d":0.4,"s":"A","t":43,"v":0.609},{"d":0.4,"s":"A","t":44,"v":0.601},{"d":0.4,"s":"A","t":45,"v":0.594},{"d":0.4,"s":"A","t":46,"v":0.586},{"d":0.4,"s":"A","t":47,"v":0.580},{"d":0.4,"s":"A","t":48,"v":0.573},{"d":0.4,"s":"A","t":49,"v":0.567},{"d":0.4,"s":"A","t":50,"v":0.561},{"d":0.4,"s":"A","t":51,"v":0.556},{"d":0.4,"s":"A","t":52,"v":0.551},{"d":0.4,"s":"A","t":53,"v":0.546},{"d":0.4,"s":"A","t":54,"v":0.541},{"d":0.4,"s":"A","t":55,"v":0.536},{"d":0.4,"s":"A","t":56,"v":0.531},{"d":0.4,"s":"A","t":57,"v":0.526},{"d":0.4,"s":"A","t":58,"v":0.521},{"d":0.4,"s":"A","t":59,"v":0.516},{"d":0.4,"s":"A","t":60,"v":0.512},{"d":0.4,"s":"A","t":61,"v":0.508},{"d":0.4,"s":"A","t":62,"v":0.504},{"d":0.4,"s":"A","t":63,"v":0.500},{"d":0.4,"s":"A","t":64,"v":0.496},{"d":0.4,"s":"A","t":65,"v":0.491},{"d":0.4,"s":"A","t":66,"v":0.487},{"d":0.4,"s":"A","t":67,"v":0.483},{"d":0.4,"s":"A","t":68,"v":0.480},{"d":0.4,"s":"A","t":69,"v":0.476},{"d":0.4,"s":"A","t":70,"v":0.472},{"d":0.4,"s":"A","t":71,"v":0.468},{"d":0.4,"s":"A","t":72,"v":0.465},{"d":0.4,"s":"A","t":73,"v":0.461},{"d":0.4,"s":"A","t":74,"v":0.457},{"d":0.4,"s":"A","t":75,"v":0.453},{"d":0.4,"s":"A","t":76,"v":0.450},{"d":0.4,"s":"A","t":77,"v":0.446},{"d":0.4,"s":"A","t":78,"v":0.441},
{"d":0.4,"s":"B","t":26,"v":1.558},{"d":0.4,"s":"B","t":27,"v":1.373},{"d":0.4,"s":"B","t":28,"v":1.340},{"d":0.4,"s":"B","t":29,"v":1.308},{"d":0.4,"s":"B","t":30,"v":1.279},{"d":0.4,"s":"B","t":31,"v":1.252},{"d":0.4,"s":"B","t":32,"v":1.228},{"d":0.4,"s":"B","t":33,"v":1.206},{"d":0.4,"s":"B","t":34,"v":1.186},{"d":0.4,"s":"B","t":35,"v":1.167},{"d":0.4,"s":"B","t":36,"v":1.149},{"d":0.4,"s":"B","t":37,"v":1.132},{"d":0.4,"s":"B","t":38,"v":1.116},{"d":0.4,"s":"B","t":39,"v":1.101},{"d":0.4,"s":"B","t":40,"v":1.087},{"d":0.4,"s":"B","t":41,"v":1.073},{"d":0.4,"s":"B","t":42,"v":1.060},{"d":0.4,"s":"B","t":43,"v":1.047},{"d":0.4,"s":"B","t":44,"v":1.035},{"d":0.4,"s":"B","t":45,"v":1.023},{"d":0.4,"s":"B","t":46,"v":1.011},{"d":0.4,"s":"B","t":47,"v":1.000},{"d":0.4,"s":"B","t":48,"v":0.989},{"d":0.4,"s":"B","t":49,"v":0.978},{"d":0.4,"s":"B","t":50,"v":0.968},{"d":0.4,"s":"B","t":51,"v":0.958},{"d":0.4,"s":"B","t":52,"v":0.949},{"d":0.4,"s":"B","t":53,"v":0.940},{"d":0.4,"s":"B","t":54,"v":0.931},{"d":0.4,"s":"B","t":55,"v":0.922},{"d":0.4,"s":"B","t":56,"v":0.913},{"d":0.4,"s":"B","t":57,"v":0.904},{"d":0.4,"s":"B","t":58,"v":0.895},{"d":0.4,"s":"B","t":59,"v":0.887},{"d":0.4,"s":"B","t":60,"v":0.879},{"d":0.4,"s":"B","t":61,"v":0.871},{"d":0.4,"s":"B","t":62,"v":0.863},{"d":0.4,"s":"B","t":63,"v":0.855},{"d":0.4,"s":"B","t":64,"v":0.847},{"d":0.4,"s":"B","t":65,"v":0.839},{"d":0.4,"s":"B","t":66,"v":0.831},{"d":0.4,"s":"B","t":67,"v":0.823},{"d":0.4,"s":"B","t":68,"v":0.815},{"d":0.4,"s":"B","t":69,"v":0.808},{"d":0.4,"s":"B","t":70,"v":0.800},{"d":0.4,"s":"B","t":71,"v":0.793},{"d":0.4,"s":"B","t":72,"v":0.786},{"d":0.4,"s":"B","t":73,"v":0.779},{"d":0.4,"s":"B","t":74,"v":0.772},{"d":0.4,"s":"B","t":75,"v":0.765},{"d":0.4,"s":"B","t":76,"v":0.758},{"d":0.4,"s":"B","t":77,"v":0.751},{"d":0.4,"s":"B","t":78,"v":0.744},
{"d":0.4,"s":"C","t":43,"v":1.356},{"d":0.4,"s":"C","t":44,"v":1.220},{"d":0.4,"s":"C","t":45,"v":1.192},{"d":0.4,"s":"C","t":46,"v":1.168},{"d":0.4,"s":"C","t":47,"v":1.146},{"d":0.4,"s":"C","t":48,"v":1.126},{"d":0.4,"s":"C","t":49,"v":1.108},{"d":0.4,"s":"C","t":50,"v":1.092},{"d":0.4,"s":"C","t":51,"v":1.077},{"d":0.4,"s":"C","t":52,"v":1.063},{"d":0.4,"s":"C","t":53,"v":1.050},{"d":0.4,"s":"C","t":54,"v":1.040},{"d":0.4,"s":"C","t":55,"v":1.029},{"d":0.4,"s":"C","t":56,"v":1.018},{"d":0.4,"s":"C","t":57,"v":1.007},{"d":0.4,"s":"C","t":58,"v":0.996},{"d":0.4,"s":"C","t":59,"v":0.985},{"d":0.4,"s":"C","t":60,"v":0.975},{"d":0.4,"s":"C","t":61,"v":0.965},{"d":0.4,"s":"C","t":62,"v":0.955},{"d":0.4,"s":"C","t":63,"v":0.946},{"d":0.4,"s":"C","t":64,"v":0.937},{"d":0.4,"s":"C","t":65,"v":0.928},{"d":0.4,"s":"C","t":66,"v":0.919},{"d":0.4,"s":"C","t":67,"v":0.910},{"d":0.4,"s":"C","t":68,"v":0.902},{"d":0.4,"s":"C","t":69,"v":0.894},{"d":0.4,"s":"C","t":70,"v":0.886},{"d":0.4,"s":"C","t":71,"v":0.878},{"d":0.4,"s":"C","t":72,"v":0.870},{"d":0.4,"s":"C","t":73,"v":0.862},{"d":0.4,"s":"C","t":74,"v":0.855},{"d":0.4,"s":"C","t":75,"v":0.848},{"d":0.4,"s":"C","t":76,"v":0.841},{"d":0.4,"s":"C","t":77,"v":0.834},{"d":0.4,"s":"C","t":78,"v":0.827},
{"d":0.4,"s":"D","t":60,"v":1.212},{"d":0.4,"s":"D","t":61,"v":1.102},{"d":0.4,"s":"D","t":62,"v":1.075},{"d":0.4,"s":"D","t":63,"v":1.055},{"d":0.4,"s":"D","t":64,"v":1.039},{"d":0.4,"s":"D","t":65,"v":1.025},{"d":0.4,"s":"D","t":66,"v":1.012},{"d":0.4,"s":"D","t":67,"v":1.000},{"d":0.4,"s":"D","t":68,"v":0.990},{"d":0.4,"s":"D","t":69,"v":0.980},{"d":0.4,"s":"D","t":70,"v":0.971},{"d":0.4,"s":"D","t":71,"v":0.962},{"d":0.4,"s":"D","t":72,"v":0.954},{"d":0.4,"s":"D","t":73,"v":0.946},{"d":0.4,"s":"D","t":74,"v":0.939},{"d":0.4,"s":"D","t":75,"v":0.932},{"d":0.4,"s":"D","t":76,"v":0.926},{"d":0.4,"s":"D","t":77,"v":0.920},{"d":0.4,"s":"D","t":78,"v":0.914},
{"d":0.4,"s":"E","t":74,"v":1.066},{"d":0.4,"s":"E","t":75,"v":1.035},{"d":0.4,"s":"E","t":76,"v":1.022},{"d":0.4,"s":"E","t":77,"v":1.000},{"d":0.4,"s":"E","t":78,"v":0.995}
]},
"data": {"name": "pts"},
"columns": 2,
"spacing": {"row": 2, "column": 1},
"concat": [
 {"width": 578, "height": 384, "title": {"text": "Discount = 0.1"},
  "transform": [{"filter": "datum.d == 0.1"}],
  "encoding": {
   "x": {"field": "t", "type": "quantitative", "scale": {"domain": [0.5, 78.5], "range": [67.5, 538.5], "nice": false, "zero": false}, "axis": {"values": [1,11,21,31,41,51,61,71], "format": "d", "grid": false, "offset": -41}},
   "y": {"field": "v", "type": "quantitative", "scale": {"domain": [0, 2], "range": [326, 84], "nice": false, "zero": false}, "axis": {"values": [0,0.5,1,1.5,2], "format": "~g", "grid": true, "offset": -46}},
   "color": {"field": "s", "type": "nominal", "scale": {"domain": ["A","B","C","D","E"], "range": ["#5B9BD5","#ED7D31","#A5A5A5","#FFC000","#70AD47"]}, "legend": null}
  },
  "layer": [
   {"mark": {"type": "line", "strokeWidth": 1.25}},
   {"mark": {"type": "point", "filled": true, "opacity": 1, "strokeWidth": 0},
    "encoding": {"shape": {"field": "s", "type": "nominal", "scale": {"domain": ["A","B","C","D","E"], "range": ["circle","square","diamond","triangle-up","square"]}, "legend": null},
                 "size": {"field": "s", "type": "nominal", "scale": {"domain": ["A","B","C","D","E"], "range": [55, 62, 58, 68, 80]}, "legend": null}}}
  ]},
 {"width": 578, "height": 384, "title": {"text": "Discount = 0.2"},
  "transform": [{"filter": "datum.d == 0.2"}],
  "encoding": {
   "x": {"field": "t", "type": "quantitative", "scale": {"domain": [0.5, 78.5], "range": [67.5, 538.5], "nice": false, "zero": false}, "axis": {"values": [1,11,21,31,41,51,61,71], "format": "d", "grid": false, "offset": -41}},
   "y": {"field": "v", "type": "quantitative", "scale": {"domain": [0, 2], "range": [326, 84], "nice": false, "zero": false}, "axis": {"values": [0,0.5,1,1.5,2], "format": "~g", "grid": true, "offset": -46}},
   "color": {"field": "s", "type": "nominal", "scale": {"domain": ["A","B","C","D","E"], "range": ["#5B9BD5","#ED7D31","#A5A5A5","#FFC000","#70AD47"]}, "legend": null}
  },
  "layer": [
   {"mark": {"type": "line", "strokeWidth": 1.25}},
   {"mark": {"type": "point", "filled": true, "opacity": 1, "strokeWidth": 0},
    "encoding": {"shape": {"field": "s", "type": "nominal", "scale": {"domain": ["A","B","C","D","E"], "range": ["circle","square","diamond","triangle-up","square"]}, "legend": null},
                 "size": {"field": "s", "type": "nominal", "scale": {"domain": ["A","B","C","D","E"], "range": [55, 62, 58, 68, 80]}, "legend": null}}}
  ]},
 {"width": 578, "height": 384, "title": {"text": "Discount = 0.3"},
  "transform": [{"filter": "datum.d == 0.3"}],
  "encoding": {
   "x": {"field": "t", "type": "quantitative", "scale": {"domain": [0.5, 78.5], "range": [67.5, 538.5], "nice": false, "zero": false}, "axis": {"values": [1,11,21,31,41,51,61,71], "format": "d", "grid": false, "offset": -41}},
   "y": {"field": "v", "type": "quantitative", "scale": {"domain": [0, 2], "range": [326, 84], "nice": false, "zero": false}, "axis": {"values": [0,0.5,1,1.5,2], "format": "~g", "grid": true, "offset": -46}},
   "color": {"field": "s", "type": "nominal", "scale": {"domain": ["A","B","C","D","E"], "range": ["#5B9BD5","#ED7D31","#A5A5A5","#FFC000","#70AD47"]}, "legend": null}
  },
  "layer": [
   {"mark": {"type": "line", "strokeWidth": 1.25}},
   {"mark": {"type": "point", "filled": true, "opacity": 1, "strokeWidth": 0},
    "encoding": {"shape": {"field": "s", "type": "nominal", "scale": {"domain": ["A","B","C","D","E"], "range": ["circle","square","diamond","triangle-up","square"]}, "legend": null},
                 "size": {"field": "s", "type": "nominal", "scale": {"domain": ["A","B","C","D","E"], "range": [55, 62, 58, 68, 80]}, "legend": null}}}
  ]},
 {"width": 578, "height": 384, "title": {"text": "Discount = 0.4"},
  "transform": [{"filter": "datum.d == 0.4"}],
  "encoding": {
   "x": {"field": "t", "type": "quantitative", "scale": {"domain": [0.5, 78.5], "range": [67.5, 538.5], "nice": false, "zero": false}, "axis": {"values": [1,11,21,31,41,51,61,71], "format": "d", "grid": false, "offset": -41}},
   "y": {"field": "v", "type": "quantitative", "scale": {"domain": [0, 2], "range": [326, 84], "nice": false, "zero": false}, "axis": {"values": [0,0.5,1,1.5,2], "format": "~g", "grid": true, "offset": -46}},
   "color": {"field": "s", "type": "nominal", "scale": {"domain": ["A","B","C","D","E"], "range": ["#5B9BD5","#ED7D31","#A5A5A5","#FFC000","#70AD47"]}, "legend": null}
  },
  "layer": [
   {"mark": {"type": "line", "strokeWidth": 1.25}},
   {"mark": {"type": "point", "filled": true, "opacity": 1, "strokeWidth": 0},
    "encoding": {"shape": {"field": "s", "type": "nominal", "scale": {"domain": ["A","B","C","D","E"], "range": ["circle","square","diamond","triangle-up","square"]}, "legend": null},
                 "size": {"field": "s", "type": "nominal", "scale": {"domain": ["A","B","C","D","E"], "range": [55, 62, 58, 68, 80]}, "legend": null}}}
  ]}
]
}
